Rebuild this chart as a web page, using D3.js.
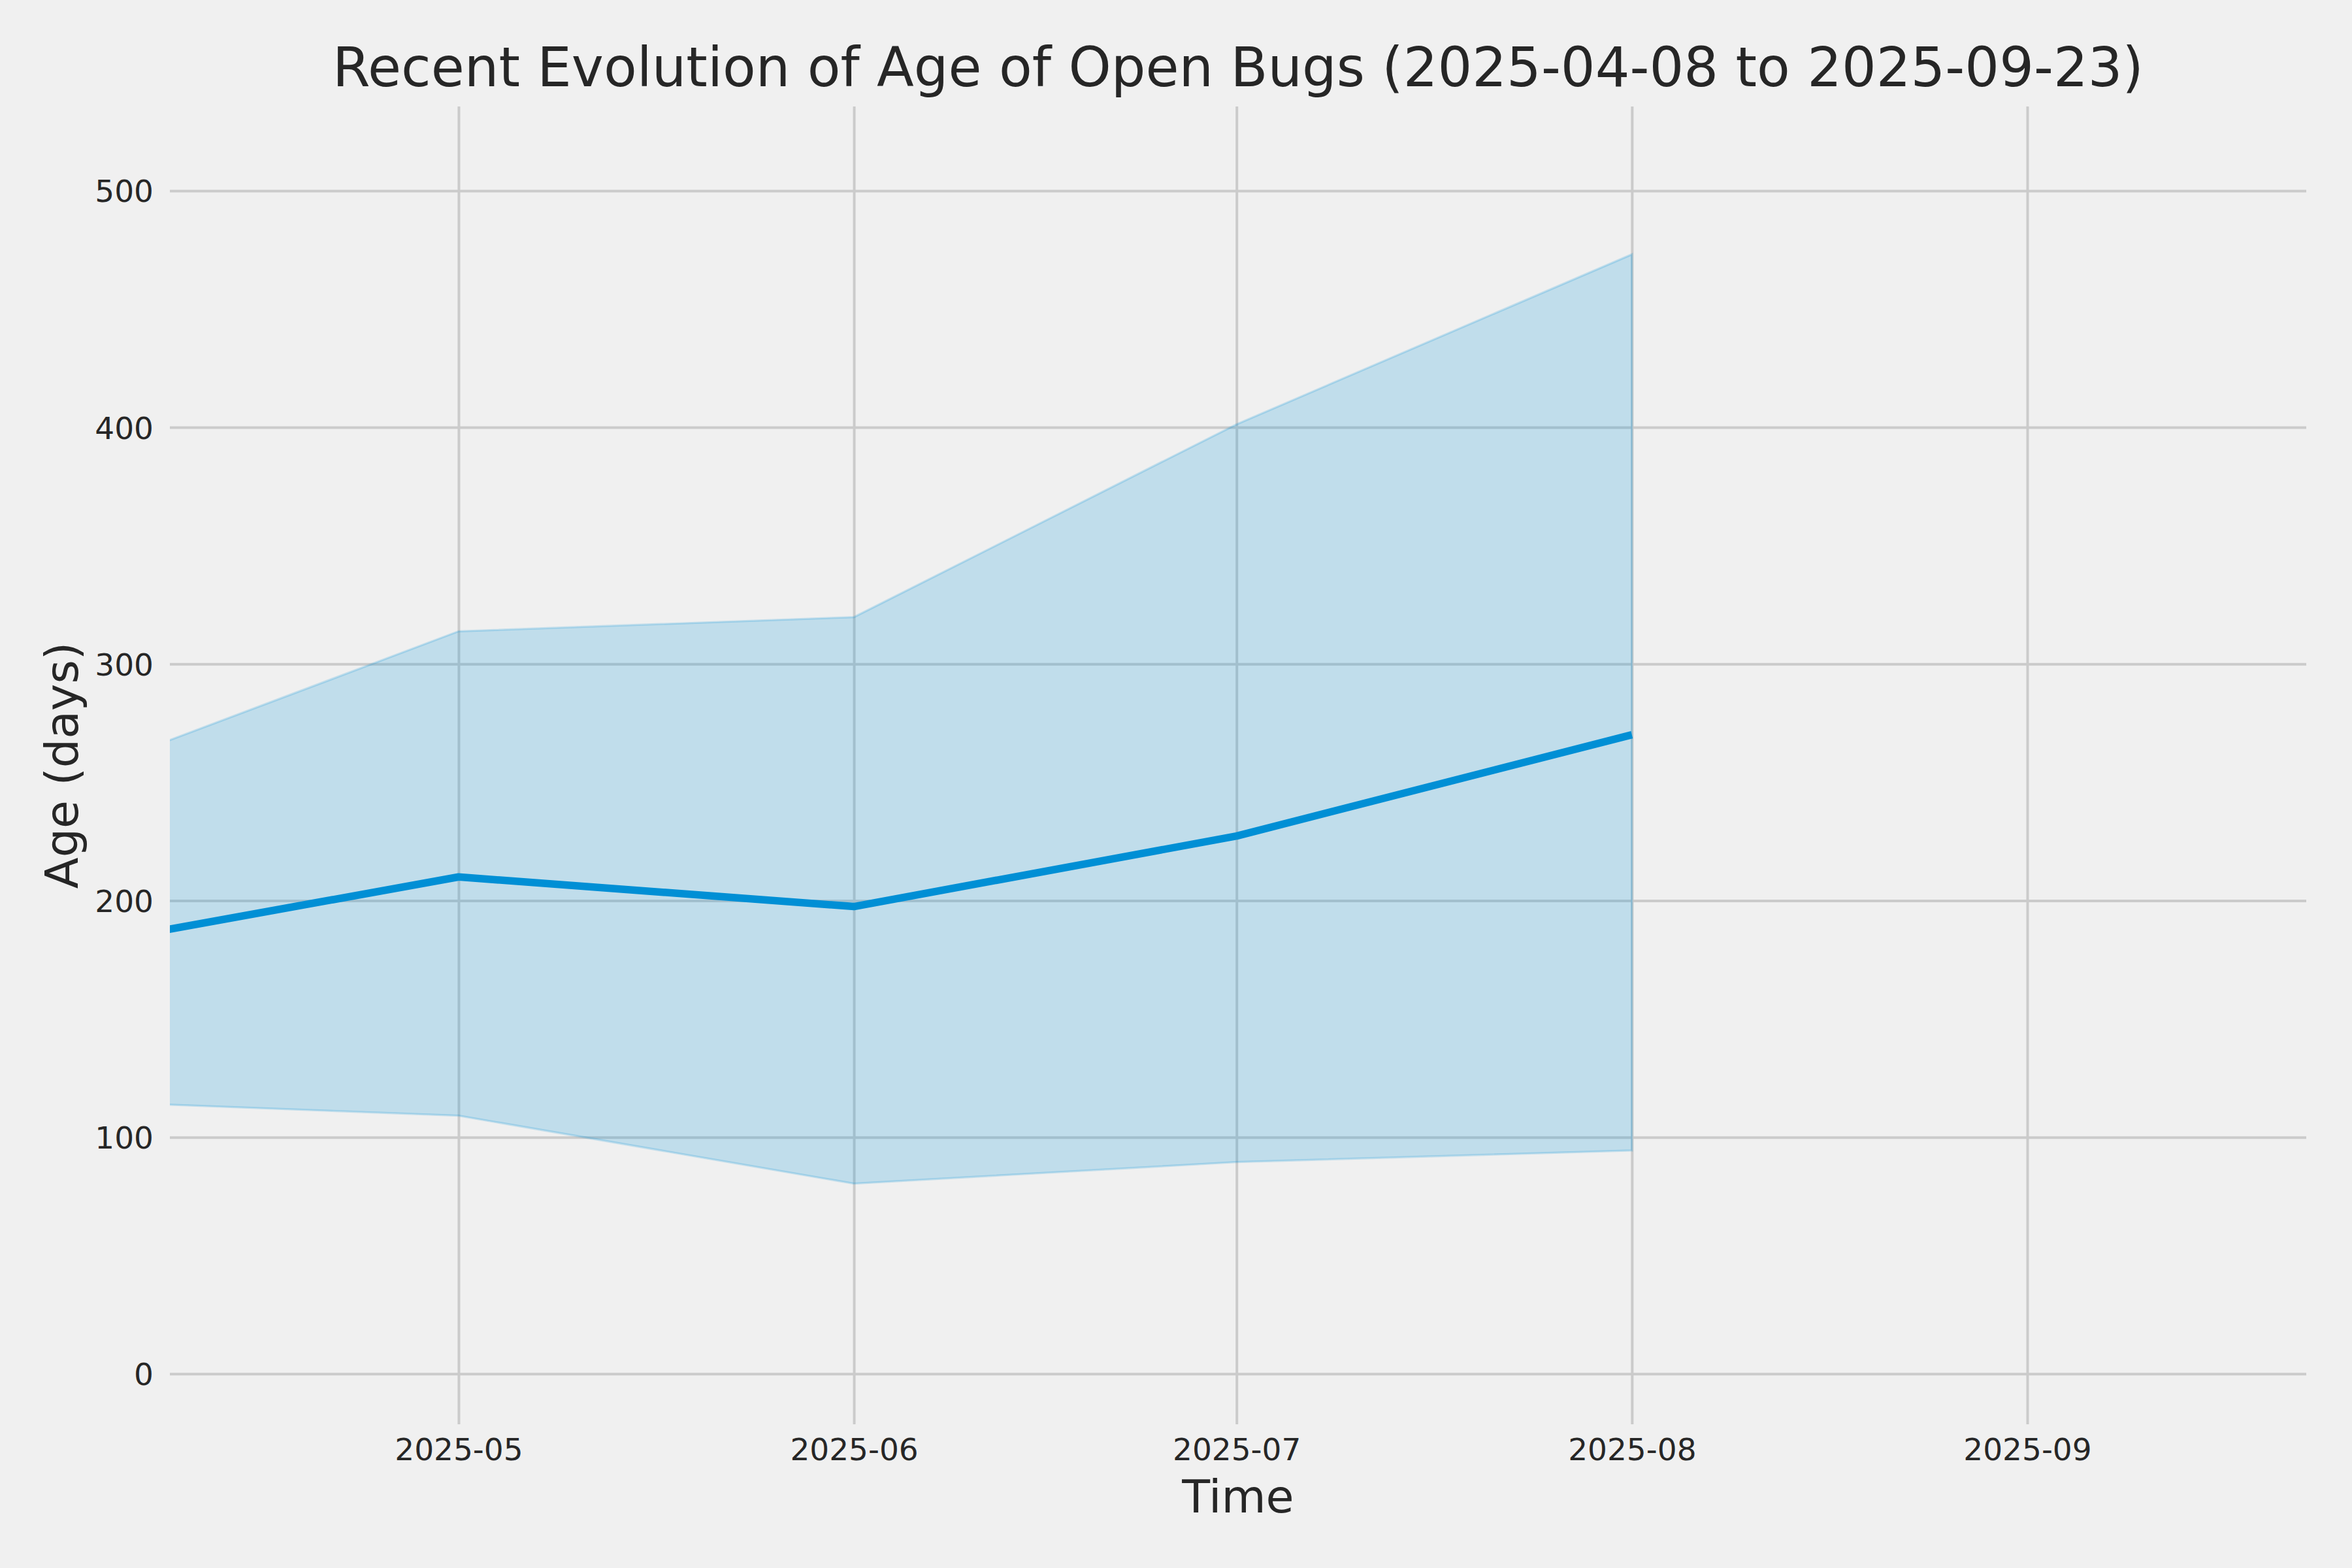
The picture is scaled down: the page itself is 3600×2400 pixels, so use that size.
<!DOCTYPE html>
<html>
<head>
<meta charset="utf-8">
<script src="https://cdn.jsdelivr.net/npm/d3@7"></script>
<style>
  body { margin: 0; background: #f0f0f0; }
  text { font-family: "DejaVu Sans", sans-serif; fill: #262626; }
</style>
</head>
<body>
<div id="container"></div>
<script>
// monthly snapshots of open bug age (days)
let dates = ['2025-04-08', '2025-05-01', '2025-06-01', '2025-07-01', '2025-08-01'];
let medianAge = [187.6, 210.0, 197.5, 227.3, 270.1];
let upperAge = [267.1, 313.8, 319.8, 401.3, 473.1];
let lowerAge = [113.8, 109.1, 80.4, 89.5, 94.4];

let yTicks = [0, 100, 200, 300, 400, 500];
let xTickLabels = ['2025-05', '2025-06', '2025-07', '2025-08', '2025-09'];

let w = 3600;
let h = 2400;
let margin = { top: 163, right: 70, bottom: 220, left: 260 };
let plotW = w - margin.left - margin.right;
let plotH = h - margin.top - margin.bottom;

let backcolor = '#f0f0f0';
let gridcolor = '#cbcbcb';
let linecolor = '#008fd5';

let parseDay = d3.utcParse('%Y-%m-%d');
let parseMonth = d3.utcParse('%Y-%m');

let rows = dates.map(function(d, i) {
  return { date: parseDay(d), mid: medianAge[i], hi: upperAge[i], lo: lowerAge[i] };
});

//create svg
let svg = d3.select('#container')
  .append('svg')
    .attr('width', w)
    .attr('height', h)
    .style('background-color', backcolor)
    .style('display', 'block')
  ;

let x = d3.scaleUtc()
  .domain([new Date(Date.UTC(2025, 3, 8, 8, 40)), new Date(Date.UTC(2025, 8, 22, 21, 0))])
  .range([0, plotW]);

let y = d3.scaleLinear()
  .domain([-21.3, 535.6])
  .range([plotH, 0]);

let viz = svg.append('g')
  .attr('transform', 'translate(' + margin.left + ',' + margin.top + ')');

svg.append('defs').append('clipPath')
  .attr('id', 'plotclip')
  .append('rect')
    .attr('width', plotW)
    .attr('height', plotH);

//y gridlines + labels
let yAxis = viz.append('g')
  .call(d3.axisLeft(y).tickValues(yTicks).tickSize(-plotW).tickPadding(25));

//x gridlines + labels
let xAxis = viz.append('g')
  .attr('transform', 'translate(0,' + plotH + ')')
  .call(d3.axisBottom(x)
    .tickValues(xTickLabels.map(parseMonth))
    .tickFormat(d3.utcFormat('%Y-%m'))
    .tickSize(-plotH)
    .tickPadding(22));

[yAxis, xAxis].forEach(function(ax) {
  ax.select('.domain').remove();
  ax.selectAll('.tick line')
    .attr('stroke', gridcolor)
    .attr('stroke-width', 4);
  ax.selectAll('.tick text')
    .style('font-size', '47px')
    .attr('fill', '#262626');
});
yAxis.selectAll('.tick text').attr('dy', '0.36em');

let plot = viz.append('g').attr('clip-path', 'url(#plotclip)');

//band between lower and upper age
let band = d3.area()
  .x(function(d) { return x(d.date); })
  .y0(function(d) { return y(d.lo); })
  .y1(function(d) { return y(d.hi); });

plot.append('path')
  .datum(rows)
  .attr('d', band)
  .attr('fill', linecolor)
  .attr('fill-opacity', 0.2)
  .attr('stroke', linecolor)
  .attr('stroke-opacity', 0.2)
  .attr('stroke-width', 3.3);

//median line
let midLine = d3.line()
  .x(function(d) { return x(d.date); })
  .y(function(d) { return y(d.mid); });

plot.append('path')
  .datum(rows)
  .attr('d', midLine)
  .attr('fill', 'none')
  .attr('stroke', linecolor)
  .attr('stroke-width', 11.5)
  .attr('stroke-linejoin', 'round');

//titles
svg.append('text')
  .attr('x', margin.left + plotW / 2)
  .attr('y', 131.7)
  .attr('text-anchor', 'middle')
  .style('font-size', '83px')
  .text('Recent Evolution of Age of Open Bugs (2025-04-08 to 2025-09-23)');

svg.append('text')
  .attr('x', margin.left + plotW / 2)
  .attr('y', 2315)
  .attr('text-anchor', 'middle')
  .style('font-size', '70px')
  .text('Time');

svg.append('text')
  .attr('transform', 'translate(119,' + (margin.top + plotH / 2) + ') rotate(-90)')
  .attr('text-anchor', 'middle')
  .style('font-size', '70px')
  .text('Age (days)');
</script>
</body>
</html>
